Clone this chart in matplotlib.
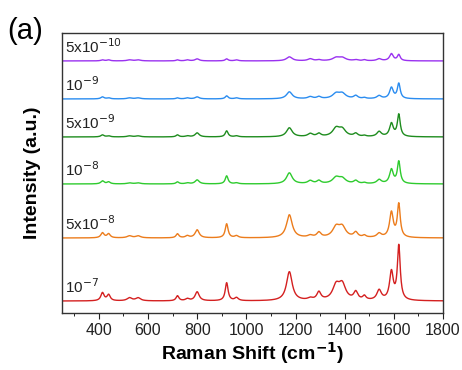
import matplotlib
matplotlib.use('Agg')
import matplotlib.pyplot as plt
import numpy as np
from matplotlib.ticker import MultipleLocator

plt.rcParams['font.family'] = ['Liberation Sans', 'DejaVu Sans']

# peak centres (cm-1) and half widths
peak_pos = [415, 440, 525, 560, 720, 760, 800, 920, 960, 1175, 1260, 1295, 1365, 1390, 1445, 1480, 1540, 1590, 1620]
peak_hw = [8, 8, 12, 12, 7, 9, 10, 7, 9, 14, 12, 10, 17, 17, 10, 8, 11, 9, 7]

labels = ['10$^{-7}$', '5x10$^{-8}$', '10$^{-8}$', '5x10$^{-9}$', '10$^{-9}$', '5x10$^{-10}$']
colors = ['#d42020', '#ec7c1c', '#2ecb2e', '#1e8c1e', '#2a8cf0', '#9a32f0']
offsets = [12, 75, 129, 176, 214, 252]

# peak heights per concentration (same order as peak_pos)
h_1e7 = [8, 6, 3, 3, 5, 2, 9, 18, 3, 29, 2, 8, 14, 15, 8, 4, 10, 28, 54]
h_5e8 = [5, 4, 2, 2, 4, 2, 8, 14, 2, 23, 2, 5, 10, 10, 5, 2, 4, 25, 33]
h_1e8 = [3, 2, 1, 1, 2, 1, 4, 8, 1, 11, 3, 3, 6, 5, 3, 1, 4, 14, 22]
h_5e9 = [2, 1, 1, 1, 2, 1, 4, 6, 1, 9, 3, 3, 8, 7, 3, 1, 5, 13, 22]
h_1e9 = [2, 1, 1, 1, 1, 1, 2, 3, 1, 7, 2, 2, 5, 5, 3, 1, 3, 11, 15]
h_5e10 = [1, 1, 1, 1, 1, 1, 2, 2, 1, 4, 2, 1, 3, 3, 1, 1, 2, 7, 6]
heights = [h_1e7, h_5e8, h_1e8, h_5e9, h_1e9, h_5e10]

x = np.arange(250, 1801, 1.0)

fig = plt.figure(figsize=(4.62, 3.70), dpi=100)
ax = fig.add_axes([0.134, 0.154, 0.825, 0.757])

for h, off, c, lab in zip(heights, offsets, colors, labels):
    y = np.full_like(x, off, dtype=float)
    for p, w, a in zip(peak_pos, peak_hw, h):
        y += a * w**2 / ((x - p)**2 + w**2)
    ax.plot(x, y, color=c, lw=1.0)
    ax.text(262, off + 5, lab, fontsize=11, color='#222222', va='bottom', ha='left')

ax.set_xlim(250, 1800)
ax.set_ylim(0, 280)
ax.set_yticks([])
ax.xaxis.set_major_locator(MultipleLocator(200))
ax.xaxis.set_minor_locator(MultipleLocator(100))
ax.set_xticks([400, 600, 800, 1000, 1200, 1400, 1600, 1800])
ax.tick_params(axis='x', direction='out', length=4, labelsize=11.5, colors='#222222')
ax.tick_params(axis='x', which='minor', direction='out', length=2.5)
for s in ax.spines.values():
    s.set_color('#333333')
    s.set_linewidth(1.0)

ax.set_xlabel('Raman Shift (cm$^{\\mathbf{-1}}$)', fontsize=14, fontweight='bold', labelpad=1)
ax.set_ylabel('Intensity (a.u.)', fontsize=14, fontweight='bold', labelpad=15)
fig.text(0.016, 0.895, '(a)', fontsize=21)

plt.savefig('out.png', dpi=100)
